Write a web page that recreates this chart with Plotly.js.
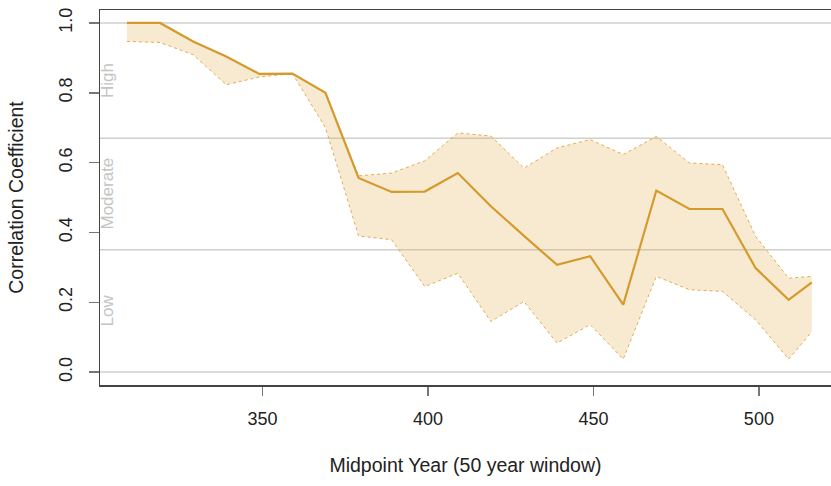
<!DOCTYPE html>
<html>
<head>
<meta charset="utf-8">
<script src="https://cdn.plot.ly/plotly-3.0.1.min.js"></script>
<style>
  html, body { margin: 0; padding: 0; background: #ffffff; }
  #chart { width: 831px; height: 486px; }
</style>
</head>
<body>
<div id="chart"></div>
<script>
// Midpoint years of the 50-year windows
const years = [309, 319, 329, 339, 349, 359, 369, 379, 389, 399, 409, 419, 429, 439, 449, 459, 469, 479, 489, 499, 509, 516];
// Correlation coefficient (central estimate)
const corr  = [1.0, 1.0, 0.947, 0.904, 0.854, 0.855, 0.80, 0.556, 0.516, 0.517, 0.570, 0.475, 0.39, 0.307, 0.332, 0.193, 0.520, 0.467, 0.467, 0.298, 0.207, 0.257];
// Upper and lower bounds of the band
const upper = [1.0, 1.0, 0.947, 0.904, 0.854, 0.855, 0.80, 0.562, 0.570, 0.605, 0.685, 0.676, 0.584, 0.642, 0.666, 0.623, 0.675, 0.599, 0.594, 0.389, 0.269, 0.274];
const lower = [0.947, 0.944, 0.909, 0.823, 0.845, 0.855, 0.70, 0.39, 0.379, 0.245, 0.283, 0.145, 0.202, 0.083, 0.136, 0.037, 0.274, 0.236, 0.231, 0.150, 0.037, 0.116];
// Zone boundaries and labels
const zoneBreaks = [0, 0.35, 0.67, 1.0];
const zoneLabels = ["Low", "Moderate", "High"];
// Axis ticks
const xTicks = [350, 400, 450, 500];
const yTicks = [0.0, 0.2, 0.4, 0.6, 0.8, 1.0];
const yTickText = ["0.0", "0.2", "0.4", "0.6", "0.8", "1.0"];

const gold = "#D49B2C";
const bandEdge = "rgba(218,160,55,0.85)";
const bandFill = "rgba(226,170,70,0.25)";
const font = "Liberation Sans, Arial, sans-serif";

const traces = [
  {
    x: years, y: lower, type: "scatter", mode: "lines",
    line: { color: bandEdge, width: 1, dash: "3px,3px" },
    hoverinfo: "skip", showlegend: false
  },
  {
    x: years, y: upper, type: "scatter", mode: "lines",
    fill: "tonexty", fillcolor: bandFill,
    line: { color: bandEdge, width: 1, dash: "3px,3px" },
    hoverinfo: "skip", showlegend: false
  },
  {
    x: years, y: corr, type: "scatter", mode: "lines",
    line: { color: gold, width: 2.2 },
    showlegend: false
  }
];

const shapes = zoneBreaks.map(v => ({
  type: "line", xref: "paper", yref: "y", x0: 0, x1: 1, y0: v, y1: v,
  line: { color: "#cfcfcf", width: 1.5 }, layer: "below"
}));

const annotations = zoneLabels.map((t, i) => ({
  text: t, xref: "paper", yref: "y", x: 0, xanchor: "left", xshift: -4,
  y: (zoneBreaks[i] + zoneBreaks[i + 1]) / 2, yanchor: "middle",
  textangle: -90, showarrow: false,
  font: { family: font, size: 17, color: "#c4c4c4" }
}));

const layout = {
  width: 831, height: 486,
  margin: { l: 100, r: 0, t: 10, b: 101 },
  paper_bgcolor: "#ffffff", plot_bgcolor: "#ffffff",
  font: { family: font, size: 18, color: "#222222" },
  xaxis: {
    range: [300.85, 521.8], tickvals: xTicks, ticktext: xTicks.map(String),
    showgrid: false, zeroline: false,
    showline: true, linecolor: "#444444", linewidth: 1.5, mirror: true,
    ticks: "outside", ticklen: 9, tickcolor: "#777777", tickwidth: 1.5,
    ticklabelstandoff: 8,
    tickfont: { family: font, size: 18, color: "#222222" },
    title: { text: "Midpoint Year (50 year window)", font: { family: font, size: 19.5, color: "#222222" }, standoff: 30 }
  },
  yaxis: {
    range: [-0.037, 1.037], tickvals: yTicks, ticktext: yTickText,
    tickangle: -90,
    showgrid: false, zeroline: false,
    showline: true, linecolor: "#444444", linewidth: 1.5, mirror: false,
    ticks: "outside", ticklen: 10, tickcolor: "#777777", tickwidth: 1.5,
    ticklabelstandoff: 9,
    tickfont: { family: font, size: 18, color: "#222222" },
    title: { text: "Correlation Coefficient", font: { family: font, size: 19.5, color: "#222222" }, standoff: 27 }
  },
  shapes: shapes,
  annotations: annotations
};

Plotly.newPlot("chart", traces, layout, { displayModeBar: false, staticPlot: true });
</script>
</body>
</html>
